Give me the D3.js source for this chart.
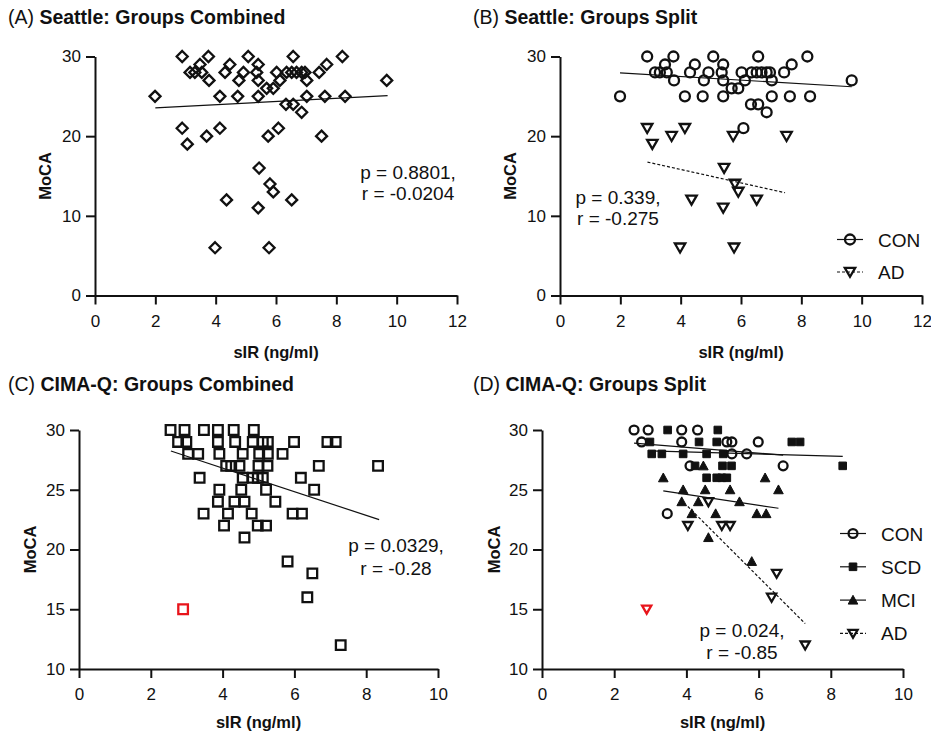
<!DOCTYPE html>
<html>
<head>
<meta charset="utf-8">
<script src="https://cdn.jsdelivr.net/npm/d3@7"></script>
<style>
body { margin: 0; background: #fff; }
svg text { font-family: "Liberation Sans", Arial, sans-serif; fill: #111; }
</style>
</head>
<body>
<svg id="fig" width="931" height="734"></svg>
<script>
// ---- Seattle cohort (sIR, MoCA) ----
const seaConX = [2.89, 3.76, 5.08, 6.57, 8.20, 3.48, 4.47, 5.41, 7.68,
    3.15, 3.31, 3.54, 4.31, 4.92, 5.36, 6.02, 6.35, 6.52, 6.68, 6.85, 6.96, 7.43,
    3.78, 4.77, 5.41, 6.13, 7.02, 9.67, 5.69, 5.91,
    1.99, 4.14, 4.73, 5.41, 7.02, 7.62, 8.29, 6.33, 6.57, 6.85, 6.08]
const seaConY = [30, 30, 30, 30, 30, 29, 29, 29, 29,
    28, 28, 28, 28, 28, 28, 28, 28, 28, 28, 28, 28, 28,
    27, 27, 27, 27, 27, 27, 26, 26,
    25, 25, 25, 25, 25, 25, 25, 24, 24, 23, 21]
const seaAdX = [2.89, 4.14, 3.70, 5.74, 7.51, 3.06, 5.44, 5.80, 5.91, 4.36, 6.52, 5.41, 3.98, 5.77]
const seaAdY = [21, 21, 20, 20, 20, 19, 16, 14, 13, 12, 12, 11, 6, 6]

// fitted lines: [x0, x1], [y0, y1]
const seaAllFitX = [2.0, 9.7], seaAllFitY = [23.55, 25.1]
const seaConFitX = [1.99, 9.67], seaConFitY = [27.95, 26.2]
const seaAdFitX = [2.9, 7.46], seaAdFitY = [16.75, 12.9]

// ---- CIMA-Q cohort ----
const cimConX = [2.55, 2.94, 3.87, 4.31, 2.76, 3.87, 5.12, 5.26, 5.99, 5.26, 5.67, 4.10, 6.68, 3.47]
const cimConY = [30, 30, 30, 30, 29, 29, 29, 29, 29, 28, 28, 27, 27, 23]
const cimScdX = [3.48, 4.87, 2.99, 4.35, 4.84, 6.92, 7.15, 3.04, 3.32, 3.91, 4.56, 5.02,
    4.24, 5.00, 5.25, 8.33, 4.56, 4.84, 4.98, 5.12]
const cimScdY = [30, 30, 29, 29, 29, 29, 29, 28, 28, 28, 28, 28, 27, 27, 27, 27, 26, 26, 26, 26]
const cimMciX = [4.47, 3.36, 6.18, 3.91, 4.52, 5.21, 6.55, 3.87, 4.33, 5.47, 4.15, 4.81, 5.95, 6.21, 4.61, 5.81]
const cimMciY = [27, 26, 26, 25, 25, 25, 25, 24, 24, 24, 23, 23, 23, 23, 21, 19]
const cimAdX = [4.61, 4.04, 4.98, 5.21, 6.50, 6.36, 7.29]
const cimAdY = [24, 22, 22, 22, 18, 16, 12]
const outlierX = [2.90], outlierY = [15]

const cimAllFitX = [2.56, 8.36], cimAllFitY = [28.24, 22.5]
const cimConFitX = [2.55, 6.68], cimConFitY = [28.9, 27.9]
const cimScdFitX = [2.99, 8.33], cimScdFitY = [28.25, 27.8]
const cimMciFitX = [3.36, 6.55], cimMciFitY = [24.9, 23.45]
const cimAdFitX = [4.04, 7.29], cimAdFitY = [23.6, 13.8]

const seaTicksX = [0, 2, 4, 6, 8, 10, 12], seaTicksY = [0, 10, 20, 30]
const cimTicksX = [0, 2, 4, 6, 8, 10], cimTicksY = [10, 15, 20, 25, 30]

const zip = (xs, ys) => xs.map((x, i) => [x, ys[i]])

const svg = d3.select("#fig")

// marker shapes
const shapes = {
    diamond: "M0,-5.5L5.5,0L0,5.5L-5.5,0Z",
    square: "M-4.8,-4.8H4.8V4.8H-4.8Z",
    triDown: "M-5.2,-4.2H5.2L0,4.8Z",
    circle: d3.symbol(d3.symbolCircle, 78)(),
    smallCircle: d3.symbol(d3.symbolCircle, 62)(),
    smallSquare: "M-3.8,-3.8H3.8V3.8H-3.8Z",
    triUp: "M0,-4.8L4.8,4L-4.8,4Z",
    smallTriDown: "M-4.6,-3.6H4.6L0,4.4Z"
}

function marker(g, d, shape, filled, color = "#111") {
    g.append("path")
        .attr("d", shapes[shape])
        .attr("transform", "translate(" + d[0] + "," + d[1] + ")")
        .attr("fill", filled ? color : "none")
        .attr("stroke", color)
        .attr("stroke-width", filled ? 1 : 2.3)
}

function panel(p) {
    const x = d3.scaleLinear().domain(p.xDomain).range([p.left, p.right])
    const y = d3.scaleLinear().domain(p.yDomain).range([p.bottom, p.top])

    const xAxis = svg.append("g")
        .attr("transform", "translate(0," + p.bottom + ")")
        .call(d3.axisBottom(x).tickValues(p.xTicks).tickSize(9).tickSizeOuter(0).tickPadding(10))
    const yAxis = svg.append("g")
        .attr("transform", "translate(" + p.left + ",0)")
        .call(d3.axisLeft(y).tickValues(p.yTicks).tickSize(9).tickSizeOuter(0).tickPadding(5))
    for (const a of [xAxis, yAxis]) {
        a.select(".domain").attr("stroke", "#111").attr("stroke-width", 2)
        a.selectAll(".tick line").attr("stroke", "#111").attr("stroke-width", 2)
        a.selectAll(".tick text").attr("font-size", 17).attr("fill", "#111")
    }

    // titles
    const t = svg.append("text").attr("x", p.titleX).attr("y", p.titleY).attr("font-size", 19.5)
    t.append("tspan").text(p.tag + " ")
    t.append("tspan").attr("font-weight", "bold").text(p.title)

    svg.append("text")
        .attr("transform", "translate(" + p.yLabelX + "," + (p.top + p.bottom) / 2 + ") rotate(-90)")
        .attr("text-anchor", "middle").attr("font-weight", "bold").attr("font-size", 16.5)
        .text("MoCA")
    svg.append("text")
        .attr("x", (p.left + p.right) / 2).attr("y", p.xLabelY)
        .attr("text-anchor", "middle").attr("font-weight", "bold").attr("font-size", 16.5)
        .text("sIR (ng/ml)")

    const g = svg.append("g")
    const line = d3.line().x(d => x(d[0])).y(d => y(d[1]))

    p.series.forEach(s => {
        if (s.fitX) {
            g.append("path")
                .attr("d", line(zip(s.fitX, s.fitY)))
                .attr("fill", "none").attr("stroke", "#111").attr("stroke-width", 1.2)
                .attr("stroke-dasharray", s.dashed ? "3,2" : null)
        }
    })
    p.series.forEach(s => {
        zip(s.x, s.y).forEach(d => marker(g, [x(d[0]), y(d[1])], s.shape, s.filled, s.color))
    })

    // stats text
    p.stats.forEach((txt, i) => {
        svg.append("text")
            .attr("x", p.statX).attr("y", p.statY + i * p.statGap)
            .attr("text-anchor", "middle").attr("font-size", 19)
            .text(txt)
    })

    // legend
    if (p.legend) {
        p.legend.forEach((s, i) => {
            const ly = p.legendY + i * p.legendGap
            g.append("line")
                .attr("x1", p.legendX - 13).attr("x2", p.legendX + 13)
                .attr("y1", ly).attr("y2", ly)
                .attr("stroke", "#111").attr("stroke-width", 1.2)
                .attr("stroke-dasharray", s.dashed ? "3,2" : null)
            marker(g, [p.legendX, ly], s.shape, s.filled)
            svg.append("text")
                .attr("x", p.legendX + 28).attr("y", ly + 7)
                .attr("font-size", 19).text(s.name)
        })
    }
}

const seaCon = { name: "CON", x: seaConX, y: seaConY, shape: "circle", fitX: seaConFitX, fitY: seaConFitY }
const seaAd = { name: "AD", x: seaAdX, y: seaAdY, shape: "triDown", fitX: seaAdFitX, fitY: seaAdFitY, dashed: true }

panel({
    tag: "(A)", title: "Seattle: Groups Combined", titleX: 8, titleY: 24,
    left: 95, right: 457, top: 56.5, bottom: 295.5,
    xDomain: [0, 12], yDomain: [0, 30], xTicks: seaTicksX, yTicks: seaTicksY,
    yLabelX: 51, xLabelY: 358,
    series: [
        { x: seaConX.concat(seaAdX), y: seaConY.concat(seaAdY), shape: "diamond", fitX: seaAllFitX, fitY: seaAllFitY }
    ],
    stats: ["p = 0.8801,", "r = -0.0204"], statX: 408, statY: 179, statGap: 20.5
})

panel({
    tag: "(B)", title: "Seattle: Groups Split", titleX: 473, titleY: 24,
    left: 560, right: 922, top: 56.5, bottom: 295.5,
    xDomain: [0, 12], yDomain: [0, 30], xTicks: seaTicksX, yTicks: seaTicksY,
    yLabelX: 516, xLabelY: 358,
    series: [seaCon, seaAd],
    stats: ["p = 0.339,", "r = -0.275"], statX: 618, statY: 203.5, statGap: 21.5,
    legend: [seaCon, seaAd], legendX: 850, legendY: 239.5, legendGap: 32.5
})

panel({
    tag: "(C)", title: "CIMA-Q: Groups Combined", titleX: 8, titleY: 391,
    left: 79, right: 438, top: 430, bottom: 669,
    xDomain: [0, 10], yDomain: [10, 30], xTicks: cimTicksX, yTicks: cimTicksY,
    yLabelX: 36, xLabelY: 728,
    series: [
        { x: cimConX.concat(cimScdX, cimMciX, cimAdX), y: cimConY.concat(cimScdY, cimMciY, cimAdY),
          shape: "square", fitX: cimAllFitX, fitY: cimAllFitY },
        { x: outlierX, y: outlierY, shape: "square", color: "#e8141b" }
    ],
    stats: ["p = 0.0329,", "r = -0.28"], statX: 396, statY: 552, statGap: 23
})

const cimCon = { name: "CON", x: cimConX, y: cimConY, shape: "smallCircle", fitX: cimConFitX, fitY: cimConFitY }
const cimScd = { name: "SCD", x: cimScdX, y: cimScdY, shape: "smallSquare", filled: true, fitX: cimScdFitX, fitY: cimScdFitY }
const cimMci = { name: "MCI", x: cimMciX, y: cimMciY, shape: "triUp", filled: true, fitX: cimMciFitX, fitY: cimMciFitY }
const cimAd = { name: "AD", x: cimAdX, y: cimAdY, shape: "smallTriDown", fitX: cimAdFitX, fitY: cimAdFitY, dashed: true }

panel({
    tag: "(D)", title: "CIMA-Q: Groups Split", titleX: 473, titleY: 391,
    left: 542, right: 903, top: 430, bottom: 669,
    xDomain: [0, 10], yDomain: [10, 30], xTicks: cimTicksX, yTicks: cimTicksY,
    yLabelX: 500, xLabelY: 728,
    series: [cimCon, cimScd, cimMci, cimAd,
        { x: outlierX, y: outlierY, shape: "smallTriDown", color: "#e8141b" }],
    stats: ["p = 0.024,", "r = -0.85"], statX: 742, statY: 637, statGap: 21.7,
    legend: [cimCon, cimScd, cimMci, cimAd], legendX: 853, legendY: 533.5, legendGap: 33.3
})
</script>
</body>
</html>
